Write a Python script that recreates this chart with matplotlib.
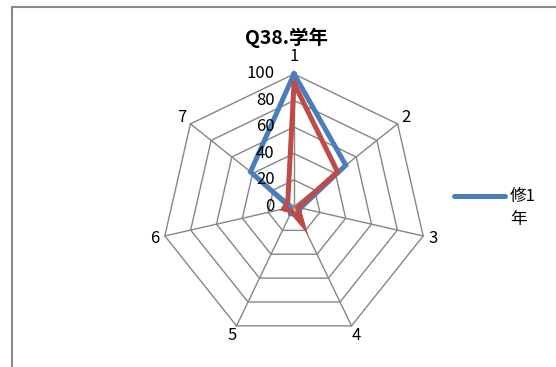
import numpy as np
import matplotlib
matplotlib.use("Agg")
import matplotlib.pyplot as plt
from matplotlib.lines import Line2D

plt.rcParams['font.family'] = ['Noto Sans CJK JP', 'DejaVu Sans']

# data
categories = ['1', '2', '3', '4', '5', '6', '7']
series_blue = [100, 50, 5, 7, 6, 3, 42]
series_red = [93, 42, 3, 15, 4, 8, 6]
rings = [0, 20, 40, 60, 80, 100]
title = 'Q38.学年'
legend_label = '修1\n年'

blue = '#4a7ebb'
red = '#be4b48'
gridc = '#868686'

n = len(categories)
angles = np.linspace(0, 2 * np.pi, n, endpoint=False)
closed = np.append(angles, angles[0])

fig = plt.figure(figsize=(5.56, 3.67), dpi=100, facecolor='white')
ax = fig.add_axes([0.2905, 0.0763, 0.4766, 0.7221], projection='polar')
ax.set_theta_offset(np.pi / 2)
ax.set_theta_direction(-1)
ax.set_ylim(0, 100)
ax.grid(False)
ax.spines['polar'].set_visible(False)
ax.set_xticks([])
ax.set_yticks([])
ax.patch.set_alpha(0)

# heptagon grid
for r in rings[1:]:
    ax.plot(closed, [r] * (n + 1), color=gridc, lw=1.0, clip_on=False, zorder=1)
for a in angles:
    ax.plot([a, a], [0, 100], color=gridc, lw=1.0, clip_on=False, zorder=1)

# category labels
for i, (a, lab) in enumerate(zip(angles, categories)):
    rr = 113 if i == 0 else 108
    ax.text(a, rr, lab, ha='center', va='center', fontsize=12, color='black')

# radial tick labels
for r in rings:
    ax.annotate(str(r), xy=(0, r), xytext=(-14, 0), textcoords='offset points',
                ha='right', va='center', fontsize=12, color='black', zorder=5)

ax.plot(closed, series_blue + series_blue[:1], color=blue, lw=3.6,
        solid_joinstyle='miter', clip_on=False, zorder=3)
ax.plot(closed, series_red + series_red[:1], color=red, lw=3.6,
        solid_joinstyle='miter', clip_on=False, zorder=4)

fig.text(287 / 556, 1 - 38 / 367, title, ha='center', va='center', fontsize=14,
         fontweight='bold')

# legend (only first entry visible)
fig.add_artist(Line2D([454 / 556, 505 / 556], [1 - 196 / 367, 1 - 196 / 367],
                      color=blue, lw=3.6, solid_capstyle='round'))
lab1, lab2 = legend_label.split('\n')
fig.text(510 / 556, 1 - 196 / 367, lab1, ha='left', va='center', fontsize=12)
fig.text(510 / 556, 1 - 219 / 367, lab2, ha='left', va='center', fontsize=12)

# chart area frame
fc = '#898989'
fig.add_artist(Line2D([12 / 556, 1.0], [1 - 7 / 367, 1 - 7 / 367], color=fc, lw=1.5))
fig.add_artist(Line2D([12 / 556, 12 / 556], [0, 1 - 7 / 367], color=fc, lw=1.5))

fig.savefig('out.png', dpi=100)
